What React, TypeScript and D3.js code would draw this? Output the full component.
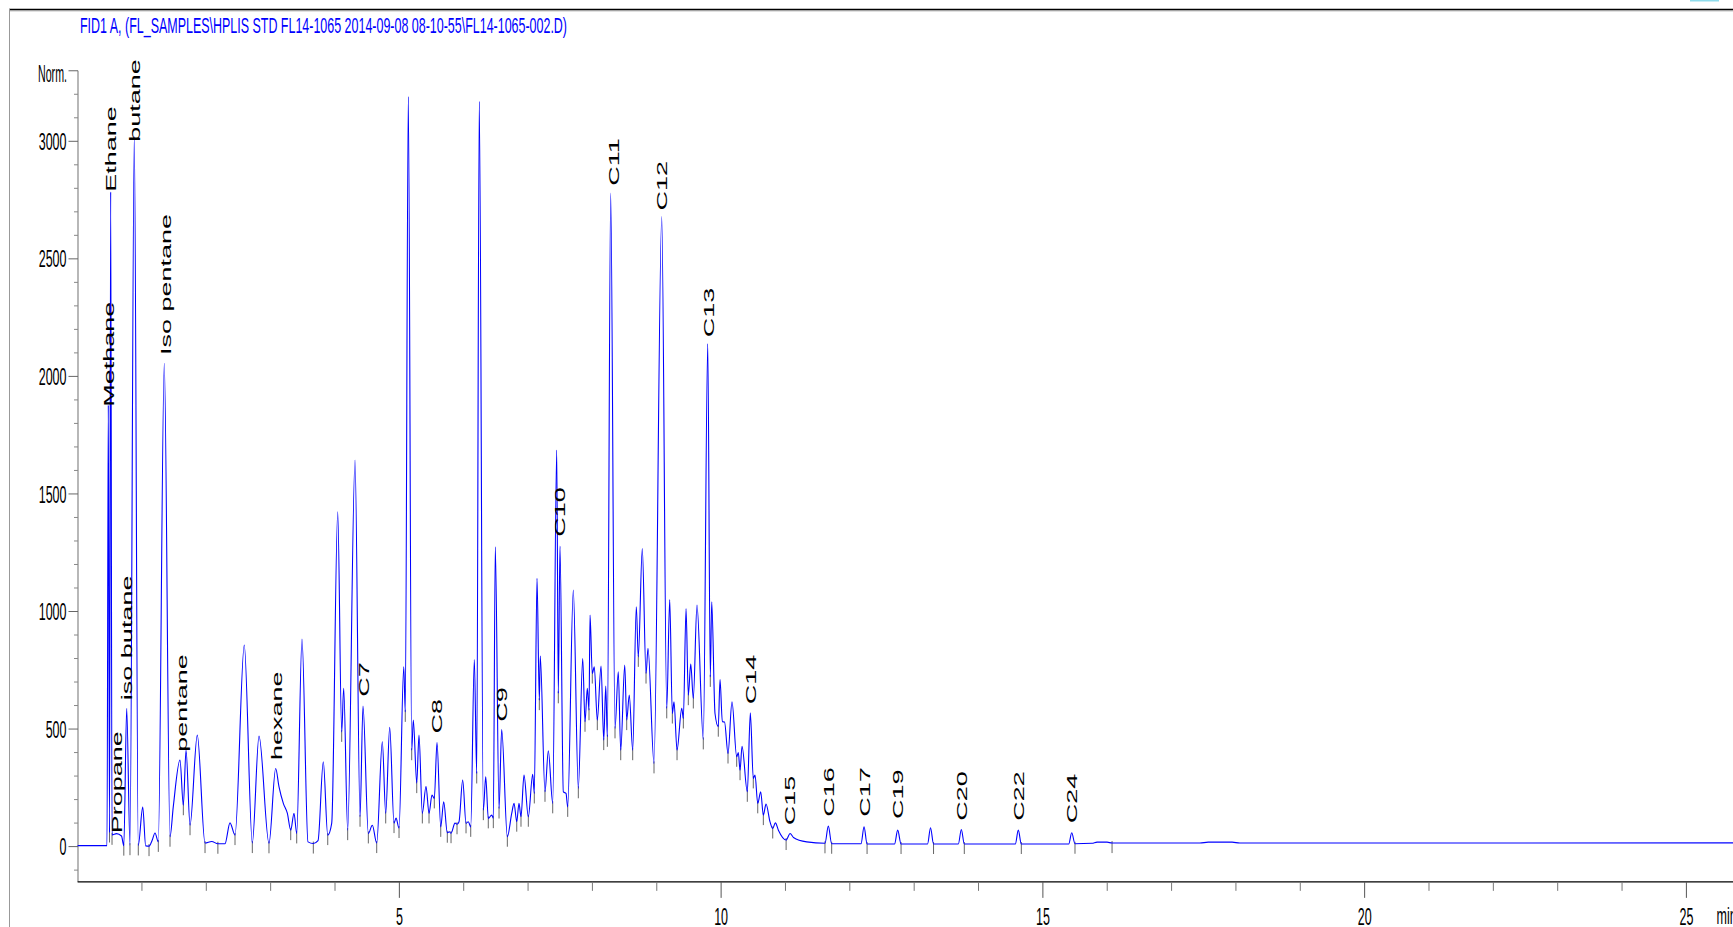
import React, { useEffect } from "react";
import * as d3 from "d3";

const W = 1733;
const H = 927;

const chartTitle =
  "FID1 A, (FL_SAMPLES\\HPLIS STD FL14-1065 2014-09-08 08-10-55\\FL14-1065-002.D)";

// retention time (min)
const traceTime = [
  0.0, 0.457, 0.477, 0.496, 0.514, 0.535, 0.605, 0.682, 0.718, 0.763, 0.814, 0.881, 0.943, 1.012,
  1.058, 1.11, 1.156, 1.203, 1.254, 1.347, 1.436, 1.487, 1.591, 1.643, 1.685, 1.747, 1.86, 1.98,
  2.084, 2.18, 2.29, 2.368, 2.446, 2.59, 2.715, 2.819, 2.974, 3.078, 3.13, 3.197, 3.259, 3.312,
  3.363, 3.405, 3.487, 3.58, 3.663, 3.736, 3.818, 3.887, 3.949, 4.042, 4.104, 4.135, 4.197, 4.311,
  4.389, 4.435, 4.518, 4.58, 4.648, 4.735, 4.788, 4.85, 4.917, 4.948, 4.995, 5.068, 5.092, 5.139,
  5.192, 5.217, 5.27, 5.305, 5.357, 5.414, 5.461, 5.507, 5.543, 5.585, 5.643, 5.689, 5.745, 5.776,
  5.803, 5.865, 5.896, 5.927, 5.984, 6.036, 6.071, 6.109, 6.165, 6.202, 6.242, 6.305, 6.342, 6.382,
  6.435, 6.46, 6.491, 6.549, 6.59, 6.678, 6.746, 6.782, 6.824, 6.859, 6.89, 6.937, 7.004, 7.072,
  7.097, 7.139, 7.175, 7.19, 7.263, 7.315, 7.383, 7.445, 7.47, 7.496, 7.548, 7.59, 7.616, 7.703,
  7.781, 7.849, 7.885, 7.921, 7.947, 7.963, 7.998, 8.029, 8.076, 8.134, 8.176, 8.207, 8.232, 8.284,
  8.351, 8.402, 8.44, 8.502, 8.533, 8.573, 8.626, 8.682, 8.713, 8.775, 8.833, 8.864, 8.957, 9.077,
  9.155, 9.201, 9.242, 9.268, 9.315, 9.388, 9.413, 9.455, 9.49, 9.528, 9.568, 9.625, 9.723, 9.792,
  9.832, 9.854, 9.905, 9.956, 9.983, 10.019, 10.053, 10.107, 10.169, 10.242, 10.267, 10.294, 10.325,
  10.407, 10.454, 10.5, 10.527, 10.569, 10.615, 10.656, 10.698, 10.76, 10.802, 10.843, 10.89, 11.01,
  11.072, 11.124, 11.33, 11.614, 11.666, 11.718, 12.174, 12.221, 12.268, 12.695, 12.744, 12.796,
  13.208, 13.254, 13.301, 13.686, 13.733, 13.779, 14.572, 14.618, 14.665, 15.402, 15.448, 15.499,
  15.764, 15.842, 15.997, 16.075, 17.44, 17.57, 17.94, 18.06, 25.73,
];

// detector signal (Norm.)
const traceSignal = [
  4, 4, 1878, 60, 2785, 50, 55, 45, 4, 588, 6, 3020, 5, 168,
  3, 2, 25, 58, 20, 2056, 42, 170, 368, 176, 411, 91, 474, 15,
  22, 12, 12, 101, 49, 857, 15, 470, 14, 332, 254, 184, 142, 70,
  142, 56, 883, 20, 13, 25, 361, 49, 100, 1424, 488, 673, 70, 1644,
  127, 598, 56, 91, 15, 446, 141, 507, 100, 121, 79, 765, 573, 3190,
  410, 538, 270, 474, 141, 257, 141, 219, 205, 443, 84, 191, 59, 63,
  57, 100, 95, 106, 283, 99, 106, 84, 796, 311, 3170, 155, 297, 120,
  134, 121, 1275, 162, 498, 42, 141, 184, 106, 184, 127, 304, 127, 308,
  226, 1141, 623, 810, 233, 408, 184, 1687, 652, 1278, 233, 226, 169, 1091,
  248, 800, 531, 673, 580, 985, 736, 765, 538, 768, 453, 683, 467, 2780,
  503, 744, 410, 772, 538, 645, 410, 1020, 807, 1268, 736, 843, 354, 2680,
  588, 1051, 566, 616, 410, 588, 545, 1013, 644, 776, 630, 1027, 456, 2140,
  722, 1041, 566, 510, 711, 531, 530, 396, 616, 382, 400, 325, 427,
  233, 569, 290, 304, 184, 233, 134, 181, 105, 77, 101, 70, 28,
  56, 39, 20, 14, 87, 12, 12, 84, 11, 11, 70, 11,
  11, 80, 11, 11, 73, 11, 11, 70, 11, 11, 59, 12,
  14, 19, 19, 15, 15, 19, 19, 15, 16,
];

const labelNames = [
  "Methane", "Ethane", "Propane", "iso butane", "butane", "Iso pentane", "pentane", "hexane",
  "C7", "C8", "C9", "C10", "C11", "C12", "C13", "C14", "C15", "C16", "C17", "C19", "C20", "C22", "C24",
];
const labelTimes = [
  0.491, 0.519, 0.607, 0.768, 0.892, 1.371, 1.618, 3.094, 4.44, 5.58, 6.59, 7.496, 8.326, 9.082,
  9.803, 10.457, 11.07, 11.666, 12.225, 12.74, 13.733, 14.624, 15.448,
];
const labelValues = [
  1871, 2785, 57, 623, 2998, 2091, 403, 368, 637, 481, 531, 1318, 2811, 2706, 2167, 606, 91, 127,
  127, 117, 110, 110, 99,
];

const xMajorTicks = [5, 10, 15, 20, 25];
const yMajorTicks = [0, 500, 1000, 1500, 2000, 2500, 3000];
const yTopValue = 3300;
const yBottomValue = -150;
const yTopLabel = "Norm.";
const xUnitLabel = "min";

export default function App() {
  useEffect(() => {
    document.body.style.margin = "0";
  }, []);

  const x = d3.scaleLinear().domain([0, 25]).range([77.6, 1686.4]);
  const y = d3.scaleLinear().domain([0, 3000]).range([846.6, 141.3]);

  const pts: [number, number][] = traceTime.map((t, i) => [t, traceSignal[i]]);
  const line = d3
    .line<[number, number]>()
    .x((d) => x(d[0]))
    .y((d) => y(d[1]))
    .curve(d3.curveMonotoneX);

  const markers: [number, number][] = [];
  for (let i = 1; i < pts.length - 1; i++) {
    const v = pts[i][1];
    if (v < pts[i - 1][1] && v <= pts[i + 1][1] && pts[i][0] < 16.1) markers.push(pts[i]);
  }

  const yMinor = d3.range(-100, 3300, 100).filter((v) => v % 500 !== 0);
  const xMinor = d3.range(1, 26).filter((v) => v % 5 !== 0);

  const axisY0 = y(yTopValue);
  const axisY1 = y(yBottomValue);
  const axisX0 = x(0);
  const font = "'Liberation Sans', Arial, Helvetica, sans-serif";
  const tickFs = 12.5;
  const tickSy = 1.95;

  return (
    <svg
      width={W}
      height={H}
      viewBox={`0 0 ${W} ${H}`}
      style={{ position: "absolute", left: 0, top: 0, display: "block", background: "#fff" }}
    >
      <rect x={0} y={0} width={W} height={H} fill="#fff" />
      {/* frame */}
      <line x1={9} y1={9.5} x2={W} y2={9.5} stroke="#000" strokeWidth={1.5} />
      <line x1={9} y1={10.8} x2={W} y2={10.8} stroke="#999" strokeWidth={1} />
      <line x1={9.5} y1={9} x2={9.5} y2={H} stroke="#999" strokeWidth={1} />
      <rect x={1690} y={0} width={29} height={1.5} fill="#8fdcec" />

      {/* title */}
      <text
        transform={`translate(80,33) scale(1,1.85)`}
        fontFamily={font}
        fontSize={12}
        fill="#0000ff"
        textLength={487}
        lengthAdjust="spacingAndGlyphs"
      >
        {chartTitle}
      </text>

      {/* y axis */}
      <line x1={78} y1={axisY0} x2={78} y2={axisY1} stroke="#888" strokeWidth={1.2} />
      {yMinor.map((v) => (
        <line key={"ym" + v} x1={74} x2={78} y1={y(v)} y2={y(v)} stroke="#888" strokeWidth={1} />
      ))}
      {[...yMajorTicks, yTopValue].map((v) => (
        <line key={"yM" + v} x1={68.5} x2={78} y1={y(v)} y2={y(v)} stroke="#666" strokeWidth={1} />
      ))}
      {yMajorTicks.map((v) => (
        <text
          key={"yl" + v}
          transform={`translate(66.5,${y(v) + 8.6}) scale(1,${tickSy})`}
          textAnchor="end"
          fontFamily={font}
          fontSize={tickFs}
          fill="#000"
        >
          {v}
        </text>
      ))}
      <text
        transform={`translate(38,${y(yTopValue) + 10.8}) scale(1,${tickSy})`}
        fontFamily={font}
        fontSize={tickFs}
        fill="#000"
        textLength={29}
        lengthAdjust="spacingAndGlyphs"
      >
        {yTopLabel}
      </text>

      {/* x axis */}
      <line x1={axisX0} y1={axisY1} x2={W} y2={axisY1} stroke="#000" strokeWidth={1.2} />
      {xMinor.map((t) => (
        <line key={"xm" + t} x1={x(t)} x2={x(t)} y1={axisY1} y2={axisY1 + 9} stroke="#777" strokeWidth={1} />
      ))}
      {xMajorTicks.map((t) => (
        <line key={"xM" + t} x1={x(t)} x2={x(t)} y1={axisY1} y2={axisY1 + 16} stroke="#555" strokeWidth={1} />
      ))}
      {xMajorTicks.map((t) => (
        <text
          key={"xl" + t}
          transform={`translate(${x(t)},924.5) scale(1,${tickSy})`}
          textAnchor="middle"
          fontFamily={font}
          fontSize={tickFs}
          fill="#000"
        >
          {t}
        </text>
      ))}
      <text
        transform={`translate(1716.5,923.5) scale(1,${tickSy})`}
        fontFamily={font}
        fontSize={tickFs}
        fill="#000"
      >
        {xUnitLabel}
      </text>

      {/* integration markers */}
      {markers.map((p, i) => (
        <line
          key={"mk" + i}
          x1={x(p[0])}
          x2={x(p[0])}
          y1={y(p[1]) - 2}
          y2={y(p[1]) + 10}
          stroke="#666"
          strokeWidth={1}
        />
      ))}

      {/* trace */}
      <path d={line(pts) || ""} fill="none" stroke="#0000ff" strokeWidth={1.1} />

      {/* peak labels */}
      {labelNames.map((name, i) => (
        <text
          key={"lb" + i}
          transform={`translate(${x(labelTimes[i]) + 5.2},${y(labelValues[i])}) scale(1,1.8) rotate(-90)`}
          fontFamily={font}
          fontSize={15}
          fill="#000"
        >
          {name}
        </text>
      ))}
    </svg>
  );
}
